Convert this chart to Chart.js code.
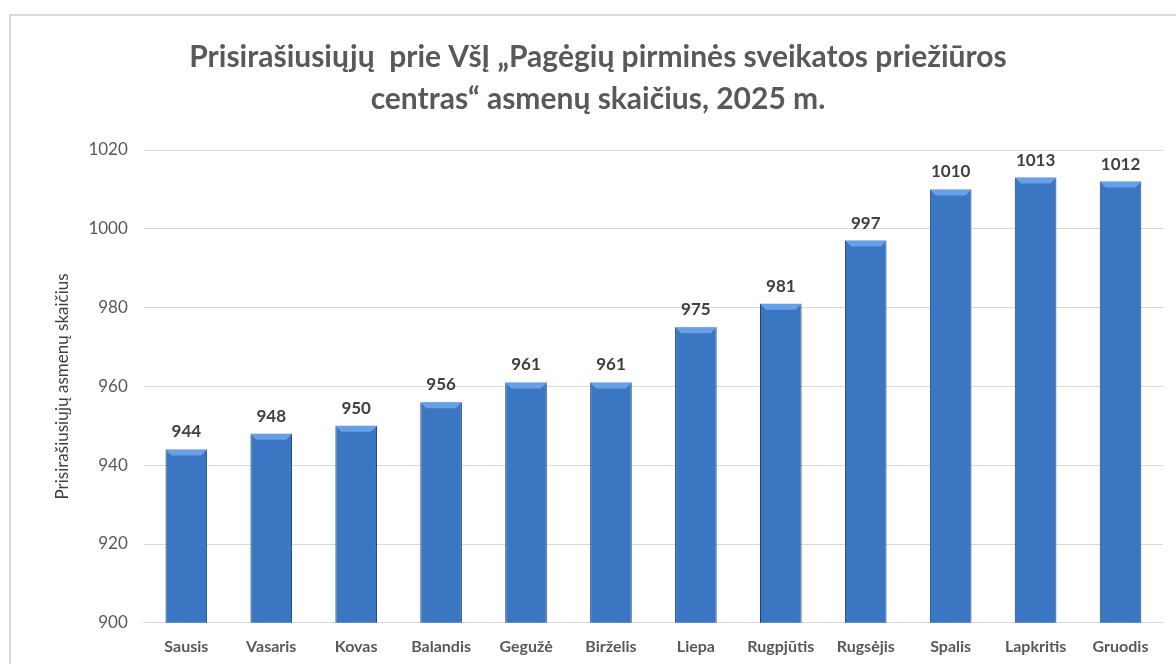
<!DOCTYPE html>
<html>
<head>
<meta charset="utf-8">
<script src="https://cdn.jsdelivr.net/npm/chart.js@4.4.1/dist/chart.umd.min.js"></script>
<style>
  html, body { margin: 0; padding: 0; background: #fff; }
  #wrap { position: relative; width: 1176px; height: 664px; overflow: hidden; }
  #frame { position: absolute; left: 9px; top: 14px; width: 1200px; height: 700px;
           border: 2px solid #d9d9d9; box-sizing: border-box; }
  canvas { position: absolute; left: 0; top: 0; }
</style>
</head>
<body>
<div id="wrap">
  <div id="frame"></div>
  <canvas id="grafica" width="1176" height="664"></canvas>
</div>
<script>
// Duomenys
var menesiai = ['Sausis', 'Vasaris', 'Kovas', 'Balandis', 'Gegužė', 'Birželis',
    'Liepa', 'Rugpjūtis', 'Rugsėjis', 'Spalis', 'Lapkritis', 'Gruodis'];
var asmenys = [944, 948, 950, 956, 961, 961, 975, 981, 997, 1010, 1013, 1012];
var yMin = 900;
var yMax = 1020;
var yZingsnis = 20;

var pavadinimas = ['Prisirašiusiųjų  prie VšĮ „Pagėgių pirminės sveikatos priežiūros',
    'centras“ asmenų skaičius, 2025 m.'];
var yPavadinimas = 'Prisirašiusiųjų asmenų skaičius';

var pilka = '#595959';
var sriftas = 'Lato, "Open Sans", sans-serif';

// Stulpelio spalva: horizontalus gradientas per stulpelį
function stulpelioSpalva(ctx) {
    var chart = ctx.chart;
    var el = ctx.element;
    if (!chart.chartArea || !el || !el.width) {
        return '#3a76c2';
    }
    var x0 = el.x - el.width / 2;
    var x1 = el.x + el.width / 2;
    var g = chart.ctx.createLinearGradient(x0, 0, x1, 0);
    g.addColorStop(0, '#234e8a');
    g.addColorStop(0.12, '#3068b0');
    g.addColorStop(0.4, '#4489da');
    g.addColorStop(0.6, '#4082d2');
    g.addColorStop(0.88, '#2e64aa');
    g.addColorStop(1, '#224a84');
    return g;
}

// Reikšmės virš stulpelių ir viršutinis „nuožulnumas“
var etiketes = {
    id: 'etiketes',
    afterDatasetsDraw: function (chart) {
        var ctx = chart.ctx;
        var meta = chart.getDatasetMeta(0);
        ctx.save();
        meta.data.forEach(function (bar, i) {
            var x0 = bar.x - bar.width / 2;
            var x1 = bar.x + bar.width / 2;
            var b = 6;
            ctx.beginPath();
            ctx.moveTo(x0, bar.y);
            ctx.lineTo(x1, bar.y);
            ctx.lineTo(x1 - b, bar.y + b);
            ctx.lineTo(x0 + b, bar.y + b);
            ctx.closePath();
            ctx.fillStyle = 'rgba(110, 165, 235, 0.9)';
            ctx.fill();

            ctx.fillStyle = '#404040';
            ctx.font = 'bold 17px ' + sriftas;
            ctx.textAlign = 'center';
            ctx.textBaseline = 'bottom';
            ctx.fillText(asmenys[i], bar.x, bar.y - 9);
        });
        ctx.restore();
    }
};

var context = document.getElementById('grafica').getContext('2d');
var chart = new Chart(context, {
    type: 'bar',
    data: {
        labels: menesiai,
        datasets: [{
            data: asmenys,
            backgroundColor: stulpelioSpalva,
            borderColor: '#1f4478',
            borderWidth: { top: 0, left: 1, right: 1, bottom: 0 },
            categoryPercentage: 1,
            barPercentage: 0.49
        }]
    },
    options: {
        responsive: false,
        animation: false,
        layout: { padding: { left: 33, right: 13, top: 36, bottom: -6 } },
        plugins: {
            legend: { display: false },
            tooltip: { enabled: false },
            title: {
                display: true,
                text: pavadinimas,
                color: pilka,
                font: { family: sriftas, size: 30, weight: 'bold', lineHeight: 1.4 },
                padding: { top: 0, bottom: 30 }
            }
        },
        scales: {
            x: {
                grid: { display: false, drawTicks: false, tickLength: 0 },
                border: { display: true, color: '#d9d9d9', width: 1 },
                ticks: {
                    color: pilka,
                    font: { family: sriftas, size: 16, weight: 'bold' },
                    padding: 14
                }
            },
            y: {
                min: yMin,
                max: yMax,
                ticks: {
                    stepSize: yZingsnis,
                    color: pilka,
                    font: { family: sriftas, size: 17 },
                    padding: 16,
                    callback: function (v) { return String(v); }
                },
                grid: { color: '#d9d9d9', drawTicks: false },
                border: { display: false },
                title: {
                    display: true,
                    text: yPavadinimas,
                    color: '#404040',
                    font: { family: sriftas, size: 17 },
                    padding: { top: 19, bottom: 0 }
                }
            }
        }
    },
    plugins: [etiketes]
});
</script>
</body>
</html>
